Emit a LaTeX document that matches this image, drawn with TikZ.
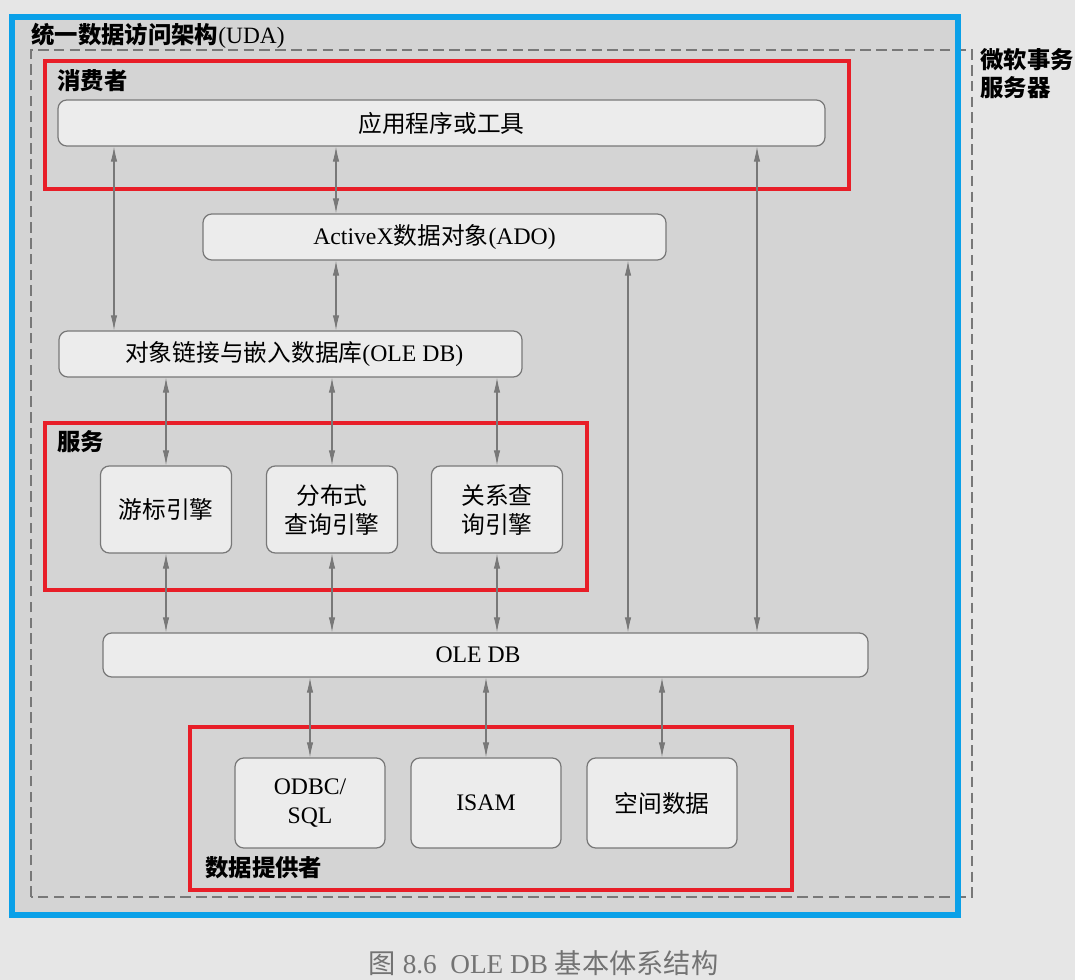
\documentclass[tikz,border=0pt]{standalone}
\usepackage{fontspec}
\setmainfont{Liberation Serif}
\newfontfamily\cjk{Noto Sans CJK SC}
\usetikzlibrary{arrows.meta}
\definecolor{marco}{RGB}{10,160,232}
\definecolor{rojo}{RGB}{232,30,40}
\definecolor{borde}{RGB}{120,120,120}
\definecolor{relleno}{RGB}{236,236,236}
\definecolor{fondo}{RGB}{212,212,212}
\definecolor{papel}{RGB}{230,230,230}
\newcommand{\zh}[1]{{\cjk #1}}
\newcommand{\zhb}[1]{{\cjk\bfseries #1}}
\begin{document}
\begin{tikzpicture}[
        every node/.style={align=center, inner sep=2pt, font=\fontsize{13.5}{16.5}\selectfont},
        caja/.style={draw=borde, fill=relleno, rounded corners=5pt, line width=0.7pt},
        motor/.style={caja, minimum width=2.62cm, minimum height=1.74cm},
        fuente/.style={caja, minimum width=3cm, minimum height=1.8cm},
        grupo/.style={draw=rojo, line width=1.8pt},
        etiqueta/.style={anchor=west, font=\fontsize{13.3}{16}\selectfont},
        flecha/.style={{Latex[length=3mm,width=1.3mm]}-{Latex[length=3mm,width=1.3mm]}, borde, line width=0.6pt}
    ]
    \useasboundingbox (0,0) rectangle (21.5,19.6);
    \fill[papel] (0,0) rectangle (21.5,19.6);
    \fill[fondo] (0.24,1.3) rectangle (19.16,19.26);
    \draw[borde, line width=0.6pt, dash pattern=on 6pt off 3pt] (0.62,1.66) rectangle (19.44,18.6);
    \draw[marco, line width=3.4pt] (0.24,1.3) rectangle (19.16,19.26);

    % grupos
    \draw[grupo] (0.9,15.82) rectangle (16.98,18.38);
    \draw[grupo] (0.9,7.8) rectangle (11.74,11.14);
    \draw[grupo] (3.8,1.8) rectangle (15.84,5.06);

    \node[etiqueta] (uda) at (0.55,18.88) {\zhb{统一数据访问架构}(UDA)};
    \node[etiqueta, align=left] (mts) at (19.53,18.12) {\zhb{微软事务}\\\zhb{服务器}};
    \node[etiqueta] (consumidor) at (1.07,17.98) {\zhb{消费者}};
    \node[etiqueta] (servicio) at (1.07,10.76) {\zhb{服务}};
    \node[etiqueta] (proveedor) at (4.03,2.24) {\zhb{数据提供者}};

    % capas
    \node[caja, minimum width=15.34cm, minimum height=0.92cm] (app) at (8.83,17.14) {\zh{应用程序或工具}};
    \node[caja, minimum width=9.26cm, minimum height=0.92cm] (ado) at (8.69,14.86) {ActiveX\zh{数据对象}(ADO)};
    \node[caja, minimum width=9.26cm, minimum height=0.92cm] (link) at (5.81,12.52) {\hspace{0.15cm}\zh{对象链接与嵌入数据库}(OLE DB)};
    \node[motor] (cursor) at (3.32,9.41) {\zh{游标引擎}};
    \node[motor] (dist) at (6.64,9.41) {\zh{分布式}\\\zh{查询引擎}};
    \node[motor] (rel) at (9.94,9.41) {\zh{关系查}\\\zh{询引擎}};
    \node[caja, minimum width=15.3cm, minimum height=0.88cm] (oledb) at (9.71,6.5) {OLE DB\hspace{0.3cm}};
    \node[fuente] (odbc) at (6.2,3.54) {ODBC/\\SQL};
    \node[fuente] (isam) at (9.72,3.54) {ISAM};
    \node[fuente] (espacial) at (13.24,3.54) {\zh{空间数据}};

    \draw[flecha] (app.south -| 2.28,0) -- (link.north -| 2.28,0);
    \draw[flecha] (app.south -| 6.72,0) -- (ado.north -| 6.72,0);
    \draw[flecha] (ado.south -| 6.72,0) -- (link.north -| 6.72,0);
    \draw[flecha] (ado.south -| 12.56,0) -- (oledb.north -| 12.56,0);
    \draw[flecha] (app.south -| 15.14,0) -- (oledb.north -| 15.14,0);
    \foreach \m in {cursor,dist,rel} {
        \draw[flecha] (\m.north |- link.south) -- (\m.north);
        \draw[flecha] (\m.south) -- (\m.south |- oledb.north);
    }
    \foreach \p in {odbc,isam,espacial}
        \draw[flecha] (\p.north |- oledb.south) -- (\p.north);

    \node[text=black!55, font=\fontsize{15.5}{18}\selectfont] (pie) at (10.87,0.34) {\zh{图} 8.6\hspace{0.5em}OLE DB \zh{基本体系结构}};
\end{tikzpicture}
\end{document}
